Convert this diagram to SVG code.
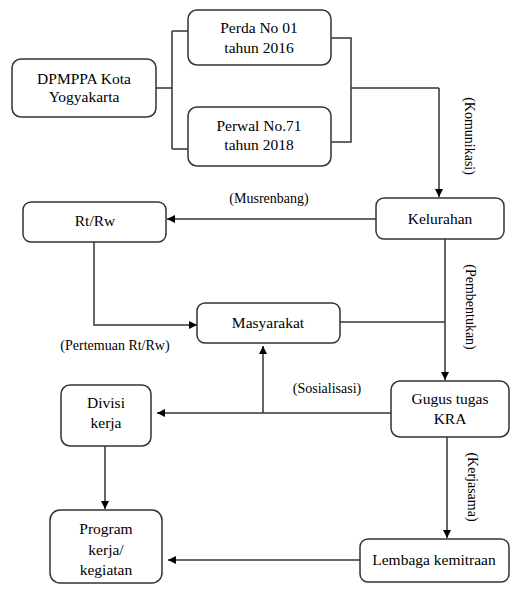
<svg xmlns="http://www.w3.org/2000/svg" width="511" height="589" viewBox="0 0 511 589">
<defs>
<marker id="ah" viewBox="0 0 10 10" refX="10" refY="5" markerWidth="8" markerHeight="8" markerUnits="userSpaceOnUse" orient="auto">
<path d="M0,0 L10,5 L0,10 z" fill="#000"/>
</marker>
<style>
.box{fill:#fff;stroke:#333;stroke-width:1.5}
.t{font-size:15.5px;fill:#000;text-anchor:middle}
.l{font-size:14px;fill:#000;text-anchor:middle}
.c{fill:none;stroke:#333;stroke-width:1.5}
.a{fill:none;stroke:#333;stroke-width:1.5;marker-end:url(#ah)}
</style>
</defs>
<rect width="511" height="589" fill="#fff"/>
<g id="connectors">
<path class="c" d="M156,88 H172 M172,31 V149 M172,31 H188 M172,149 H188"/>
<path class="c" d="M331,38 H351 V142 H331 M351,88 H439"/>
<path class="a" d="M439,88 V197"/>
<path class="a" d="M376,219 H167"/>
<path class="a" d="M94,242 V325 H197"/>
<path class="c" d="M340,322 H445"/>
<path class="a" d="M445,239 V380"/>
<path class="a" d="M391,413 H157"/>
<path class="a" d="M263,413 V346"/>
<path class="a" d="M105,446 V509"/>
<path class="a" d="M447,437 V538"/>
<path class="a" d="M360,560 H168"/>
</g>
<g font-family="'Liberation Serif', 'DejaVu Serif', 'Times New Roman', serif">
<g id="labels">
<text class="l" x="269" y="203">(Musrenbang)</text>
<text class="l" x="115" y="350">(Pertemuan Rt/Rw)</text>
<text class="l" x="327" y="393">(Sosialisasi)</text>
<text class="l" transform="translate(465,136) rotate(90)">(Komunikasi)</text>
<text class="l" transform="translate(466,307) rotate(90)">(Pembentukan)</text>
<text class="l" transform="translate(468,487) rotate(90)">(Kerjasama)</text>
</g>
<g id="dpmppa">
<rect class="box" x="12" y="59" width="144" height="58" rx="9"/>
<text class="t" x="84" y="84">DPMPPA Kota</text>
<text class="t" x="84" y="102">Yogyakarta</text>
</g>
<g id="perda">
<rect class="box" x="188" y="10" width="143" height="55" rx="9"/>
<text class="t" x="259" y="33">Perda No 01</text>
<text class="t" x="259" y="53">tahun 2016</text>
</g>
<g id="perwal">
<rect class="box" x="188" y="107" width="143" height="59" rx="9"/>
<text class="t" x="259" y="131">Perwal No.71</text>
<text class="t" x="259" y="150">tahun 2018</text>
</g>
<g id="kelurahan">
<rect class="box" x="376" y="198" width="128" height="41" rx="8"/>
<text class="t" x="440" y="224">Kelurahan</text>
</g>
<g id="rtrw">
<rect class="box" x="23" y="202" width="143" height="40" rx="8"/>
<text class="t" x="95" y="226">Rt/Rw</text>
</g>
<g id="masyarakat">
<rect class="box" x="197" y="303" width="143" height="40" rx="8"/>
<text class="t" x="268" y="328">Masyarakat</text>
</g>
<g id="gugus">
<rect class="box" x="391" y="381" width="118" height="56" rx="9"/>
<text class="t" x="450" y="404">Gugus tugas</text>
<text class="t" x="450" y="424">KRA</text>
</g>
<g id="divisi">
<rect class="box" x="61" y="385" width="90" height="61" rx="9"/>
<text class="t" x="106" y="408">Divisi</text>
<text class="t" x="106" y="428">kerja</text>
</g>
<g id="program">
<rect class="box" x="50" y="510" width="112" height="73" rx="10"/>
<text class="t" x="106" y="534">Program</text>
<text class="t" x="106" y="555">kerja/</text>
<text class="t" x="106" y="575">kegiatan</text>
</g>
<g id="lembaga">
<rect class="box" x="360" y="539" width="149" height="43" rx="8"/>
<text class="t" x="434" y="565">Lembaga kemitraan</text>
</g>
</g>
</svg>
